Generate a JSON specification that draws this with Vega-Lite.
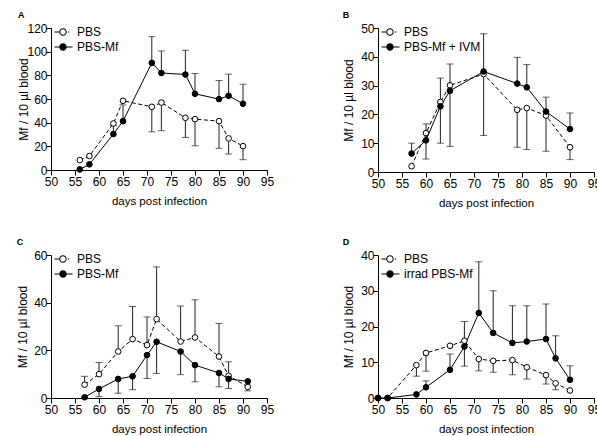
{
  "$schema": "https://vega.github.io/schema/vega-lite/v6.json",
  "padding": {"left": 16, "top": 11, "right": 0, "bottom": 0},
  "columns": 2,
  "spacing": {"row": 83, "column": 111},
  "bounds": "flush",
  "datasets": {
    "A": [
      {"day": 56, "series": "PBS", "value": 8.4},
      {"day": 58, "series": "PBS", "value": 11.8},
      {"day": 63, "series": "PBS", "value": 39.3},
      {"day": 65, "series": "PBS", "value": 58.5},
      {"day": 71, "series": "PBS", "value": 53.4, "err": 32.3},
      {"day": 73, "series": "PBS", "value": 57, "err": 33.2},
      {"day": 78, "series": "PBS", "value": 44.1, "err": 27.5},
      {"day": 80, "series": "PBS", "value": 43, "err": 20.5},
      {"day": 85, "series": "PBS", "value": 41.3, "err": 18.3},
      {"day": 87, "series": "PBS", "value": 26.7, "err": 13.5},
      {"day": 90, "series": "PBS", "value": 20.2, "err": 8.7},
      {"day": 56, "series": "PBS-Mf", "value": 0.5},
      {"day": 58, "series": "PBS-Mf", "value": 4.8},
      {"day": 63, "series": "PBS-Mf", "value": 30.4, "err": 37.5},
      {"day": 65, "series": "PBS-Mf", "value": 41.3, "err": 55},
      {"day": 71, "series": "PBS-Mf", "value": 90.5, "err": 112.7},
      {"day": 73, "series": "PBS-Mf", "value": 82, "err": 100.6},
      {"day": 78, "series": "PBS-Mf", "value": 80.7, "err": 101.2},
      {"day": 80, "series": "PBS-Mf", "value": 64.4, "err": 81.5},
      {"day": 85, "series": "PBS-Mf", "value": 59.9, "err": 75.6},
      {"day": 87, "series": "PBS-Mf", "value": 62.7, "err": 81},
      {"day": 90, "series": "PBS-Mf", "value": 56, "err": 72.5}
    ],
    "B": [
      {"day": 57, "series": "PBS", "value": 2},
      {"day": 60, "series": "PBS", "value": 13.5, "err": 4.5},
      {"day": 63, "series": "PBS", "value": 24.3, "err": 10},
      {"day": 65, "series": "PBS", "value": 30.1, "err": 8.9},
      {"day": 72, "series": "PBS", "value": 34, "err": 12.7},
      {"day": 79, "series": "PBS", "value": 21.6, "err": 8.6},
      {"day": 81, "series": "PBS", "value": 22.2, "err": 7.8},
      {"day": 85, "series": "PBS", "value": 19.6, "err": 7.2},
      {"day": 90, "series": "PBS", "value": 8.6, "err": 4.3},
      {"day": 57, "series": "PBS-Mf + IVM", "value": 6.4, "err": 10},
      {"day": 60, "series": "PBS-Mf + IVM", "value": 11, "err": 16.7},
      {"day": 63, "series": "PBS-Mf + IVM", "value": 22.8, "err": 32.6},
      {"day": 65, "series": "PBS-Mf + IVM", "value": 28.2, "err": 37.5},
      {"day": 72, "series": "PBS-Mf + IVM", "value": 34.9, "err": 48},
      {"day": 79, "series": "PBS-Mf + IVM", "value": 30.7, "err": 39.8},
      {"day": 81, "series": "PBS-Mf + IVM", "value": 29.4, "err": 37.3},
      {"day": 85, "series": "PBS-Mf + IVM", "value": 21, "err": 26},
      {"day": 90, "series": "PBS-Mf + IVM", "value": 14.9, "err": 20.5}
    ],
    "C": [
      {"day": 57, "series": "PBS", "value": 5.6, "err": 9.1},
      {"day": 60, "series": "PBS", "value": 10, "err": 14.9},
      {"day": 64, "series": "PBS", "value": 19.5, "err": 30.3},
      {"day": 67, "series": "PBS", "value": 24.7, "err": 38.4},
      {"day": 70, "series": "PBS", "value": 22.2, "err": 34},
      {"day": 72, "series": "PBS", "value": 33.1, "err": 55},
      {"day": 77, "series": "PBS", "value": 23.7, "err": 38.6},
      {"day": 80, "series": "PBS", "value": 25.4, "err": 41.2},
      {"day": 85, "series": "PBS", "value": 17.4, "err": 31.3},
      {"day": 87, "series": "PBS", "value": 9.3, "err": 15.2},
      {"day": 91, "series": "PBS", "value": 4.7},
      {"day": 57, "series": "PBS-Mf", "value": 0.3},
      {"day": 60, "series": "PBS-Mf", "value": 3.8, "err": 0.6},
      {"day": 64, "series": "PBS-Mf", "value": 8, "err": 2},
      {"day": 67, "series": "PBS-Mf", "value": 9.1, "err": 3.5},
      {"day": 70, "series": "PBS-Mf", "value": 18, "err": 8.2},
      {"day": 72, "series": "PBS-Mf", "value": 23.6, "err": 10.3},
      {"day": 77, "series": "PBS-Mf", "value": 19.5, "err": 9.8},
      {"day": 80, "series": "PBS-Mf", "value": 13.8, "err": 6.8},
      {"day": 85, "series": "PBS-Mf", "value": 10.5, "err": 4.7},
      {"day": 87, "series": "PBS-Mf", "value": 8, "err": 4},
      {"day": 91, "series": "PBS-Mf", "value": 7, "err": 3}
    ],
    "D": [
      {"day": 50, "series": "PBS", "value": 0},
      {"day": 52, "series": "PBS", "value": 0},
      {"day": 58, "series": "PBS", "value": 9.2, "err": 6.1},
      {"day": 60, "series": "PBS", "value": 12.6, "err": 7.5},
      {"day": 65, "series": "PBS", "value": 14.6},
      {"day": 68, "series": "PBS", "value": 16, "err": 8.9},
      {"day": 71, "series": "PBS", "value": 10.9, "err": 7.6},
      {"day": 74, "series": "PBS", "value": 10.4, "err": 7.2},
      {"day": 78, "series": "PBS", "value": 10.6, "err": 6.5},
      {"day": 81, "series": "PBS", "value": 8.6, "err": 5.3},
      {"day": 85, "series": "PBS", "value": 6.4, "err": 3.9},
      {"day": 87, "series": "PBS", "value": 4.1, "err": 2.3},
      {"day": 90, "series": "PBS", "value": 2.1},
      {"day": 50, "series": "irrad PBS-Mf", "value": 0},
      {"day": 52, "series": "irrad PBS-Mf", "value": 0},
      {"day": 58, "series": "irrad PBS-Mf", "value": 1},
      {"day": 60, "series": "irrad PBS-Mf", "value": 3, "err": 4.8},
      {"day": 65, "series": "irrad PBS-Mf", "value": 7.9, "err": 12.3},
      {"day": 68, "series": "irrad PBS-Mf", "value": 14.4, "err": 21.4},
      {"day": 71, "series": "irrad PBS-Mf", "value": 23.8, "err": 38.1},
      {"day": 74, "series": "irrad PBS-Mf", "value": 18.2, "err": 30},
      {"day": 78, "series": "irrad PBS-Mf", "value": 15.4, "err": 25.8},
      {"day": 81, "series": "irrad PBS-Mf", "value": 15.8, "err": 25.8},
      {"day": 85, "series": "irrad PBS-Mf", "value": 16.5, "err": 26.3},
      {"day": 87, "series": "irrad PBS-Mf", "value": 11.1, "err": 17.4},
      {"day": 90, "series": "irrad PBS-Mf", "value": 5.1, "err": 9}
    ]
  },
  "concat": [
    {
      "title": "A",
      "width": 216, "height": 142,
      "data": {"name": "A"},
      "encoding": {
        "x": {"field": "day", "type": "quantitative", "scale": {"domain": [50, 95], "nice": false, "zero": false}, "axis": {"values": [50,55,60,65,70,75,80,85,90,95], "title": "days post infection"}},
        "y": {"field": "value", "type": "quantitative", "scale": {"domain": [0, 120], "nice": false}, "axis": {"values": [0,20,40,60,80,100,120], "title": "Mf / 10 µl blood", "titlePadding": -4}}
      },
      "layer": [
        {"transform": [{"filter": "isValid(datum.err)"}], "mark": {"type": "rule", "color": "#222", "strokeWidth": 1}, "encoding": {"y2": {"field": "err"}}},
        {"transform": [{"filter": "isValid(datum.err)"}], "mark": {"type": "tick", "orient": "horizontal", "size": 7, "thickness": 1, "color": "#222"}, "encoding": {"y": {"field": "err", "type": "quantitative", "scale": {"domain": [0, 120], "nice": false}, "axis": {"values": [0,20,40,60,80,100,120], "title": "Mf / 10 µl blood", "titlePadding": -4}}}},
        {"transform": [{"filter": "datum.series === 'PBS'"}], "mark": {"type": "line", "color": "black", "strokeWidth": 1, "strokeDash": [4, 2.5]}},
        {"transform": [{"filter": "datum.series !== 'PBS'"}], "mark": {"type": "line", "color": "black", "strokeWidth": 1}},
        {"transform": [{"filter": "datum.series === 'PBS'"}], "mark": {"type": "point", "filled": true, "size": 32, "fill": "white", "stroke": "black", "strokeWidth": 1, "opacity": 1}},
        {"transform": [{"filter": "datum.series !== 'PBS'"}], "mark": {"type": "point", "filled": true, "size": 32, "fill": "black", "stroke": "black", "strokeWidth": 1, "opacity": 1}},
        {"transform": [{"filter": "false"}], "mark": {"type": "point", "filled": true, "color": "black", "opacity": 1},
         "encoding": {
           "shape": {"field": "series", "scale": {"domain": ["PBS", "PBS-Mf"], "range": ["M-1.22,-0.0714H-0.5V0.0714H-1.22ZM0.7,-0.0714H0.9V0.0714H0.7ZM0.53,0A0.53,0.53,0,1,1,-0.53,0A0.53,0.53,0,1,1,0.53,0ZM0.39,0A0.39,0.39,0,1,0,-0.39,0A0.39,0.39,0,1,0,0.39,0Z", "M-1.22,-0.0714H-0.5V0.0714H-1.22ZM0.5,-0.0714H1.36V0.0714H0.5ZM0.53,0A0.53,0.53,0,1,1,-0.53,0A0.53,0.53,0,1,1,0.53,0Z"]}, "legend": {"orient": "none", "legendX": 5, "legendY": -3, "title": null, "symbolSize": 196, "symbolFillColor": "black", "symbolStrokeColor": "transparent", "symbolStrokeWidth": 0, "symbolOpacity": 1, "labelOffset": 7, "rowPadding": 2, "padding": 0}}
         }}
      ]
    },
    {
      "title": "B",
      "width": 216, "height": 144,
      "data": {"name": "B"},
      "encoding": {
        "x": {"field": "day", "type": "quantitative", "scale": {"domain": [50, 95], "nice": false, "zero": false}, "axis": {"values": [50,55,60,65,70,75,80,85,90,95], "title": "days post infection"}},
        "y": {"field": "value", "type": "quantitative", "scale": {"domain": [0, 50], "nice": false}, "axis": {"values": [0,10,20,30,40,50], "title": "Mf / 10 µl blood", "titlePadding": 5}}
      },
      "layer": [
        {"transform": [{"filter": "isValid(datum.err)"}], "mark": {"type": "rule", "color": "#222", "strokeWidth": 1}, "encoding": {"y2": {"field": "err"}}},
        {"transform": [{"filter": "isValid(datum.err)"}], "mark": {"type": "tick", "orient": "horizontal", "size": 7, "thickness": 1, "color": "#222"}, "encoding": {"y": {"field": "err", "type": "quantitative", "scale": {"domain": [0, 50], "nice": false}, "axis": {"values": [0,10,20,30,40,50], "title": "Mf / 10 µl blood", "titlePadding": 5}}}},
        {"transform": [{"filter": "datum.series === 'PBS'"}], "mark": {"type": "line", "color": "black", "strokeWidth": 1, "strokeDash": [4, 2.5]}},
        {"transform": [{"filter": "datum.series !== 'PBS'"}], "mark": {"type": "line", "color": "black", "strokeWidth": 1}},
        {"transform": [{"filter": "datum.series === 'PBS'"}], "mark": {"type": "point", "filled": true, "size": 32, "fill": "white", "stroke": "black", "strokeWidth": 1, "opacity": 1}},
        {"transform": [{"filter": "datum.series !== 'PBS'"}], "mark": {"type": "point", "filled": true, "size": 32, "fill": "black", "stroke": "black", "strokeWidth": 1, "opacity": 1}},
        {"transform": [{"filter": "false"}], "mark": {"type": "point", "filled": true, "color": "black", "opacity": 1},
         "encoding": {
           "shape": {"field": "series", "scale": {"domain": ["PBS", "PBS-Mf + IVM"], "range": ["M-1.22,-0.0714H-0.5V0.0714H-1.22ZM0.7,-0.0714H0.9V0.0714H0.7ZM0.53,0A0.53,0.53,0,1,1,-0.53,0A0.53,0.53,0,1,1,0.53,0ZM0.39,0A0.39,0.39,0,1,0,-0.39,0A0.39,0.39,0,1,0,0.39,0Z", "M-1.22,-0.0714H-0.5V0.0714H-1.22ZM0.5,-0.0714H1.36V0.0714H0.5ZM0.53,0A0.53,0.53,0,1,1,-0.53,0A0.53,0.53,0,1,1,0.53,0Z"]}, "legend": {"orient": "none", "legendX": 5, "legendY": -3, "title": null, "symbolSize": 196, "symbolFillColor": "black", "symbolStrokeColor": "transparent", "symbolStrokeWidth": 0, "symbolOpacity": 1, "labelOffset": 7, "rowPadding": 2, "padding": 0}}
         }}
      ]
    },
    {
      "title": "C",
      "width": 216, "height": 143,
      "data": {"name": "C"},
      "encoding": {
        "x": {"field": "day", "type": "quantitative", "scale": {"domain": [50, 95], "nice": false, "zero": false}, "axis": {"values": [50,55,60,65,70,75,80,85,90,95], "title": "days post infection"}},
        "y": {"field": "value", "type": "quantitative", "scale": {"domain": [0, 60], "nice": false}, "axis": {"values": [0,20,40,60], "title": "Mf / 10 µl blood", "titlePadding": 4}}
      },
      "layer": [
        {"transform": [{"filter": "isValid(datum.err)"}], "mark": {"type": "rule", "color": "#222", "strokeWidth": 1}, "encoding": {"y2": {"field": "err"}}},
        {"transform": [{"filter": "isValid(datum.err)"}], "mark": {"type": "tick", "orient": "horizontal", "size": 7, "thickness": 1, "color": "#222"}, "encoding": {"y": {"field": "err", "type": "quantitative", "scale": {"domain": [0, 60], "nice": false}, "axis": {"values": [0,20,40,60], "title": "Mf / 10 µl blood", "titlePadding": 4}}}},
        {"transform": [{"filter": "datum.series === 'PBS'"}], "mark": {"type": "line", "color": "black", "strokeWidth": 1, "strokeDash": [4, 2.5]}},
        {"transform": [{"filter": "datum.series !== 'PBS'"}], "mark": {"type": "line", "color": "black", "strokeWidth": 1}},
        {"transform": [{"filter": "datum.series === 'PBS'"}], "mark": {"type": "point", "filled": true, "size": 32, "fill": "white", "stroke": "black", "strokeWidth": 1, "opacity": 1}},
        {"transform": [{"filter": "datum.series !== 'PBS'"}], "mark": {"type": "point", "filled": true, "size": 32, "fill": "black", "stroke": "black", "strokeWidth": 1, "opacity": 1}},
        {"transform": [{"filter": "false"}], "mark": {"type": "point", "filled": true, "color": "black", "opacity": 1},
         "encoding": {
           "shape": {"field": "series", "scale": {"domain": ["PBS", "PBS-Mf"], "range": ["M-1.22,-0.0714H-0.5V0.0714H-1.22ZM0.7,-0.0714H0.9V0.0714H0.7ZM0.53,0A0.53,0.53,0,1,1,-0.53,0A0.53,0.53,0,1,1,0.53,0ZM0.39,0A0.39,0.39,0,1,0,-0.39,0A0.39,0.39,0,1,0,0.39,0Z", "M-1.22,-0.0714H-0.5V0.0714H-1.22ZM0.5,-0.0714H1.36V0.0714H0.5ZM0.53,0A0.53,0.53,0,1,1,-0.53,0A0.53,0.53,0,1,1,0.53,0Z"]}, "legend": {"orient": "none", "legendX": 5, "legendY": -3, "title": null, "symbolSize": 196, "symbolFillColor": "black", "symbolStrokeColor": "transparent", "symbolStrokeWidth": 0, "symbolOpacity": 1, "labelOffset": 7, "rowPadding": 2, "padding": 0}}
         }}
      ]
    },
    {
      "title": "D",
      "width": 216, "height": 143,
      "data": {"name": "D"},
      "encoding": {
        "x": {"field": "day", "type": "quantitative", "scale": {"domain": [50, 95], "nice": false, "zero": false}, "axis": {"values": [50,55,60,65,70,75,80,85,90,95], "title": "days post infection"}},
        "y": {"field": "value", "type": "quantitative", "scale": {"domain": [0, 40], "nice": false}, "axis": {"values": [0,10,20,30,40], "title": "Mf / 10 µl blood", "titlePadding": 5}}
      },
      "layer": [
        {"transform": [{"filter": "isValid(datum.err)"}], "mark": {"type": "rule", "color": "#222", "strokeWidth": 1}, "encoding": {"y2": {"field": "err"}}},
        {"transform": [{"filter": "isValid(datum.err)"}], "mark": {"type": "tick", "orient": "horizontal", "size": 7, "thickness": 1, "color": "#222"}, "encoding": {"y": {"field": "err", "type": "quantitative", "scale": {"domain": [0, 40], "nice": false}, "axis": {"values": [0,10,20,30,40], "title": "Mf / 10 µl blood", "titlePadding": 5}}}},
        {"transform": [{"filter": "datum.series === 'PBS'"}], "mark": {"type": "line", "color": "black", "strokeWidth": 1, "strokeDash": [4, 2.5]}},
        {"transform": [{"filter": "datum.series !== 'PBS'"}], "mark": {"type": "line", "color": "black", "strokeWidth": 1}},
        {"transform": [{"filter": "datum.series === 'PBS'"}], "mark": {"type": "point", "filled": true, "size": 32, "fill": "white", "stroke": "black", "strokeWidth": 1, "opacity": 1}},
        {"transform": [{"filter": "datum.series !== 'PBS'"}], "mark": {"type": "point", "filled": true, "size": 32, "fill": "black", "stroke": "black", "strokeWidth": 1, "opacity": 1}},
        {"transform": [{"filter": "false"}], "mark": {"type": "point", "filled": true, "color": "black", "opacity": 1},
         "encoding": {
           "shape": {"field": "series", "scale": {"domain": ["PBS", "irrad PBS-Mf"], "range": ["M-1.22,-0.0714H-0.5V0.0714H-1.22ZM0.7,-0.0714H0.9V0.0714H0.7ZM0.53,0A0.53,0.53,0,1,1,-0.53,0A0.53,0.53,0,1,1,0.53,0ZM0.39,0A0.39,0.39,0,1,0,-0.39,0A0.39,0.39,0,1,0,0.39,0Z", "M-1.22,-0.0714H-0.5V0.0714H-1.22ZM0.5,-0.0714H1.36V0.0714H0.5ZM0.53,0A0.53,0.53,0,1,1,-0.53,0A0.53,0.53,0,1,1,0.53,0Z"]}, "legend": {"orient": "none", "legendX": 5, "legendY": -3, "title": null, "symbolSize": 196, "symbolFillColor": "black", "symbolStrokeColor": "transparent", "symbolStrokeWidth": 0, "symbolOpacity": 1, "labelOffset": 7, "rowPadding": 2, "padding": 0}}
         }}
      ]
    }
  ],
  "resolve": {
    "scale": {"x": "independent", "y": "independent", "shape": "independent"},
    "legend": {"shape": "independent"}
  },
  "config": {
    "background": "white",
    "font": "Liberation Sans",
    "view": {"stroke": null},
    "axis": {"grid": false, "domainColor": "black", "tickColor": "black", "labelColor": "black", "titleColor": "black", "labelFont": "Liberation Sans", "titleFont": "Liberation Sans", "labelFontSize": 12, "titleFontSize": 12, "titleFontWeight": "normal", "tickSize": 5, "labelPadding": -1, "domainWidth": 1, "tickWidth": 1},
    "axisX": {"titleFontSize": 11.5, "titlePadding": 8, "labelPadding": 1, "labelFlush": false, "labelOverlap": false},
    "legend": {"labelFont": "Liberation Sans", "labelFontSize": 12, "labelColor": "black"},
    "title": {"anchor": "start", "frame": "bounds", "fontSize": 9, "fontWeight": "bold", "font": "Liberation Sans", "color": "black", "offset": 2}
  }
}
